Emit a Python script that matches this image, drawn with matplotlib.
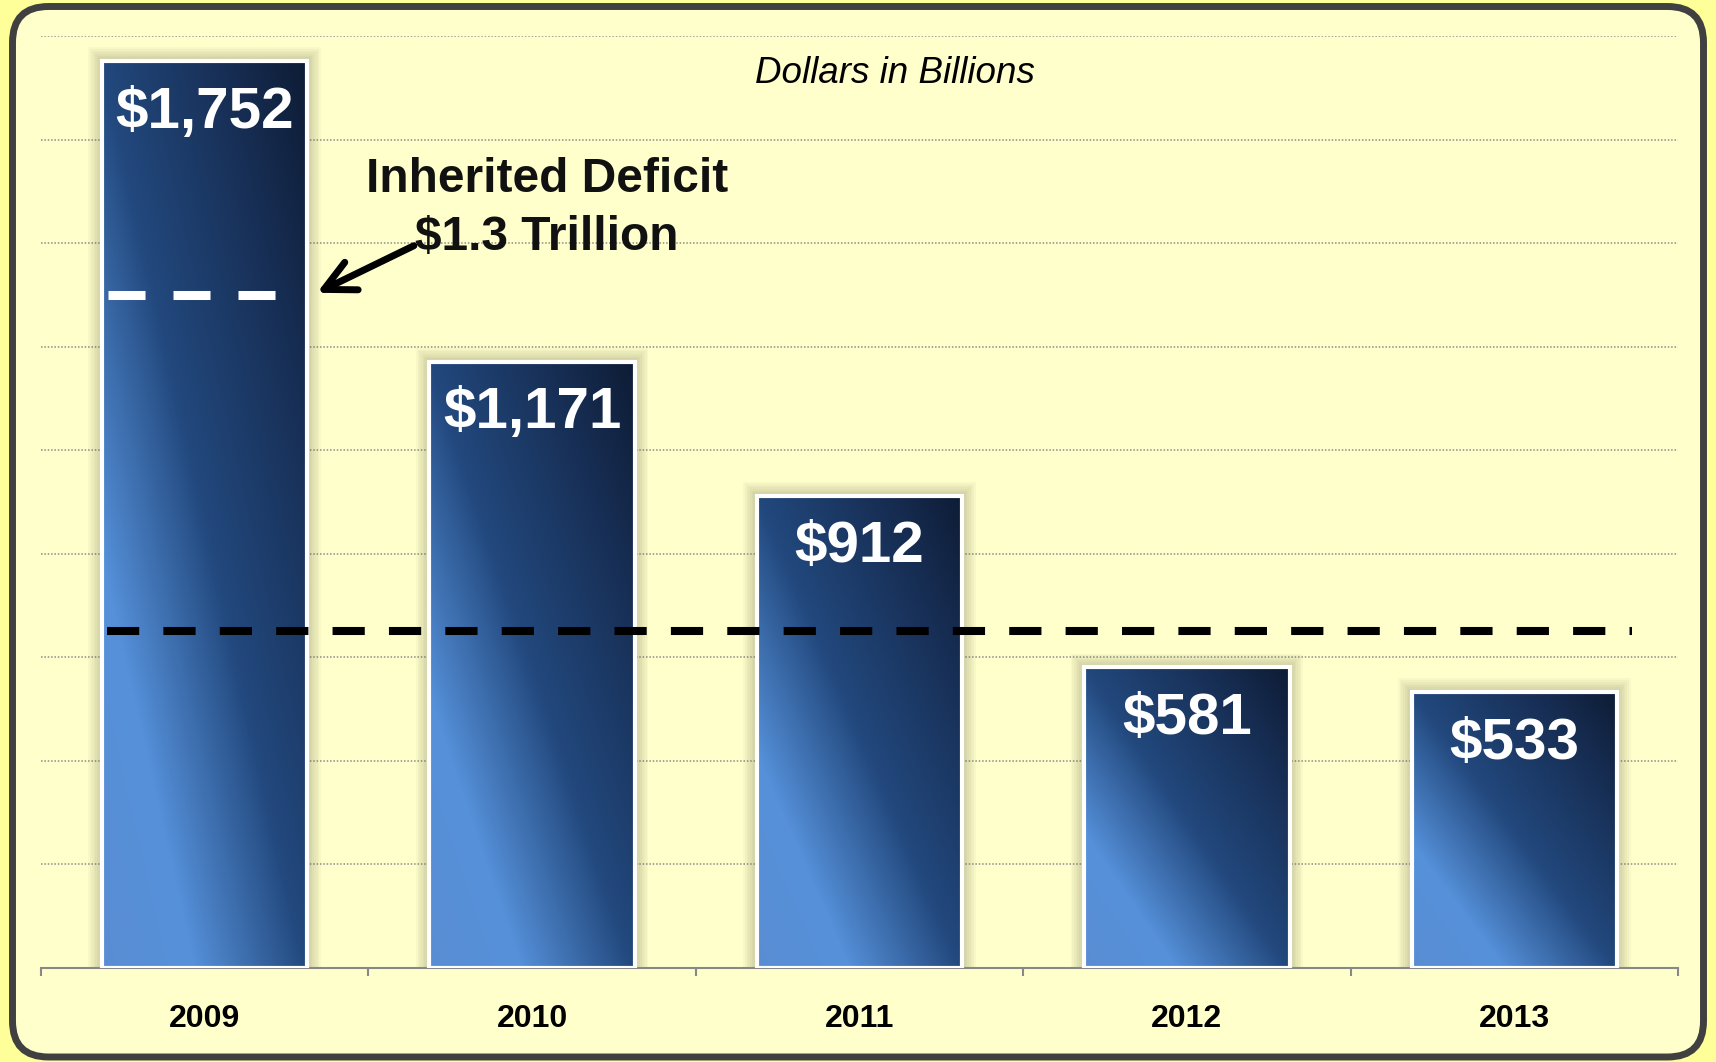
import matplotlib
matplotlib.use("Agg")
import matplotlib.pyplot as plt
import numpy as np
from matplotlib.colors import LinearSegmentedColormap
from matplotlib.patches import FancyBboxPatch, Rectangle
from matplotlib.transforms import IdentityTransform

# data
years = ["2009", "2010", "2011", "2012", "2013"]
deficits = [1752, 1171, 912, 581, 533]
inherited_deficit = 1300
half_target = 650
y_max = 1800
grid_step = 200

plt.rcParams["font.family"] = ["Liberation Sans", "DejaVu Sans"]

W, H, DPI = 1716, 1062, 100
fig = plt.figure(figsize=(W / DPI, H / DPI), dpi=DPI, facecolor="#FFFF99")

# rounded panel behind the chart (pixel coords)
frame = FancyBboxPatch(
    (12.5, 5.0), W - 25, H - 11.5,
    boxstyle="round,pad=0,rounding_size=36",
    transform=IdentityTransform(),
    fc="#FFFFCC", ec="#404040", lw=5, zorder=-1,
)
fig.add_artist(frame)

ax_left, ax_bottom, ax_w, ax_h = 41, 94, 1637, 932
ax = fig.add_axes([ax_left / W, ax_bottom / H, ax_w / W, ax_h / H])
ax.patch.set_alpha(0)

x = np.arange(len(years))
bar_w = 0.627
n_cat = len(years)
ux = n_cat / ax_w          # data units per pixel, horizontal
uy = y_max / ax_h          # data units per pixel, vertical

cmap = LinearSegmentedColormap.from_list(
    "bar",
    [(0.0, "#5A8DD3"), (0.22, "#5691DA"), (0.5, "#22487D"),
     (0.8, "#172E54"), (1.0, "#0E1C35")],
)
gu, gv = np.meshgrid(np.linspace(0, 1, 200), np.linspace(0, 1, 400))
grad = (gu + gv) / 2

bars = ax.bar(x, deficits, width=bar_w, facecolor="none",
              edgecolor="white", linewidth=3, zorder=4)
for b in bars:
    x0, w, h = b.get_x(), b.get_width(), b.get_height()
    # soft glow around each bar
    for k in range(1, 9):
        ax.add_patch(Rectangle(
            (x0 - k * 1.7 * ux, -k * 1.7 * uy),
            w + 2 * k * 1.7 * ux, h + 2 * k * 1.7 * uy,
            facecolor="#66664A", edgecolor="none", alpha=0.045, zorder=2,
        ))
    ax.imshow(grad, cmap=cmap, origin="lower", extent=(x0, x0 + w, 0, h),
              aspect="auto", interpolation="bilinear", zorder=3)

for xi, v in zip(x, deficits):
    ax.annotate(f"${v:,}", xy=(xi, v), xytext=(0, -48),
                textcoords="offset points", ha="center", va="baseline",
                color="white", fontsize=42, fontweight="bold", zorder=6)

# reference lines
ax.plot([-0.295, 0.22], [inherited_deficit] * 2, color="white",
        lw=6.5, dashes=(4.1, 3.1), zorder=5)
ax.plot([-0.298, 4.36], [half_target] * 2, color="black",
        lw=5.8, dashes=(4.0, 3.0), zorder=5)

# callout
ax.text(1.045, 1498, "Inherited Deficit", ha="center", va="baseline",
        fontsize=34.5, fontweight="bold", color="#111111", zorder=6)
ax.text(1.045, 1387, "$1.3 Trillion", ha="center", va="baseline",
        fontsize=34.5, fontweight="bold", color="#111111", zorder=6)
ax.annotate("", xy=(0.343, 1304), xytext=(0.639, 1395),
            arrowprops=dict(arrowstyle="->,head_length=1.1,head_width=0.55",
                            lw=5, color="black", shrinkA=0, shrinkB=0,
                            mutation_scale=20),
            zorder=6)

ax.text(0.5217, 0.9496, "Dollars in Billions", transform=ax.transAxes,
        ha="center", va="baseline", fontsize=26.5, fontstyle="italic",
        color="black")

ax.set_xlim(-0.5, n_cat - 0.5)
ax.set_ylim(0, y_max)

ax.set_yticks(np.arange(0, y_max + 1, grid_step))
ax.yaxis.grid(True, linestyle=(0, (1, 1.2)), color="#8C8C8C", lw=1.1)
ax.set_axisbelow(True)
ax.tick_params(axis="y", length=0, labelleft=False)

ax.set_xticks(x)
ax.set_xticklabels(years, fontsize=23, fontweight="bold")
ax.tick_params(axis="x", which="major", length=0, pad=26)
ax.set_xticks(np.arange(-0.5, n_cat, 1), minor=True)
ax.tick_params(axis="x", which="minor", length=6, width=1.5,
               color="#888888", direction="out")

for side in ("left", "right", "top"):
    ax.spines[side].set_visible(False)
ax.spines["bottom"].set_color("#888888")
ax.spines["bottom"].set_linewidth(1.5)

fig.savefig("out.png", dpi=DPI, facecolor=fig.get_facecolor())
